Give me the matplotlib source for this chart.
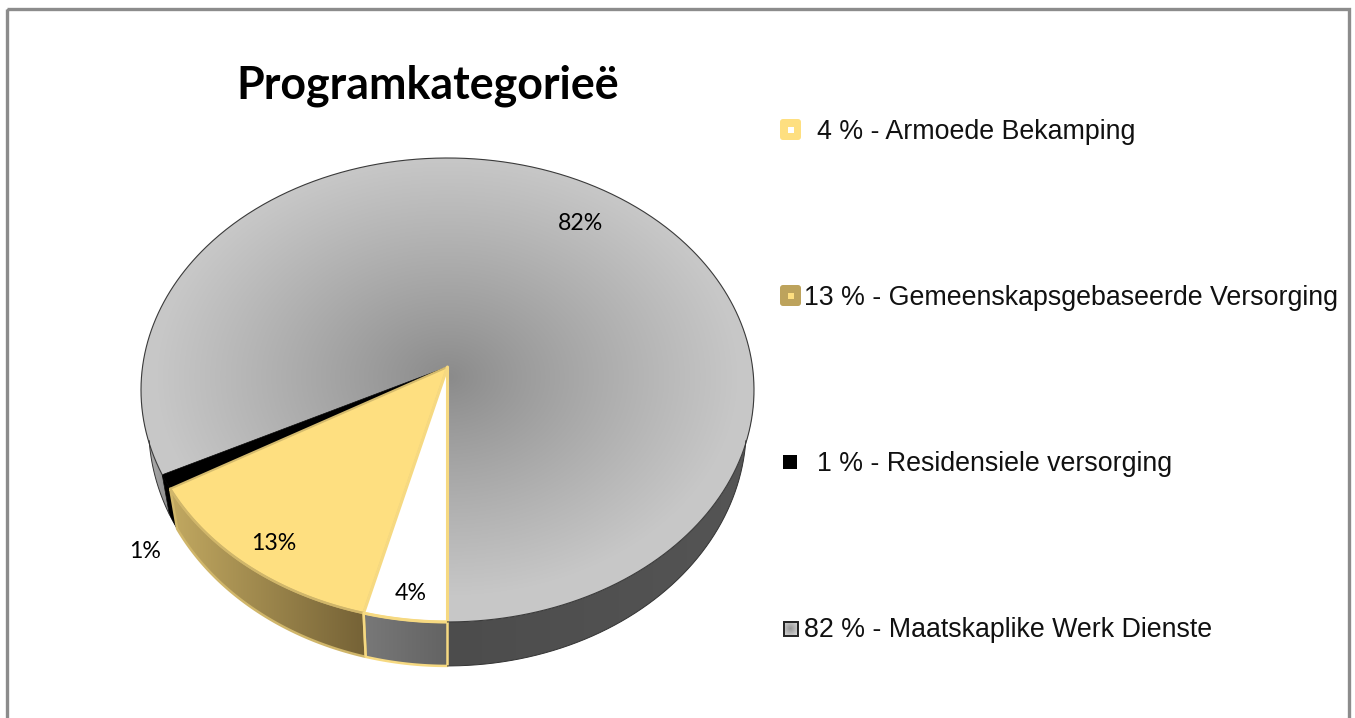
import numpy as np
import matplotlib
matplotlib.use("Agg")
import matplotlib.pyplot as plt
from matplotlib.patches import Polygon, Rectangle, FancyBboxPatch
from matplotlib.colors import to_rgb

# ---- data
title = "Programkategorieë"
values = [4, 12.6, 1, 82.4]
pct_labels = ["4%", "13%", "1%", "82%"]
legend_labels = ["4 % - Armoede Bekamping",
                 "13 % - Gemeenskapsgebaseerde Versorging",
                 "1 % - Residensiele versorging",
                 "82 % - Maatskaplike Werk Dienste"]

# ---- layout (pixels)
W, H = 1355, 718
AX, AY = 447.5, 367.0      # apex of the pie
RX, RY, K = 305.0, 229.7, 0.099
SHRINK = 0.975
GOLD_EDGE = "#f6d981"

fig = plt.figure(figsize=(W / 100, H / 100), dpi=100, facecolor="white")
ax = fig.add_axes([0, 0, 1, 1])
ax.set_xlim(0, W)
ax.set_ylim(H, 0)
ax.axis("off")
yy, xx = np.mgrid[0:H, 0:W] + 0.5


def rim(frac):
    """Perspective position of the rim at a pie fraction, clockwise from straight down."""
    t = 2 * np.pi * np.asarray(frac)
    u, v = -np.sin(t), np.cos(t)
    d = 1 - K * v
    return AX + RX * u / d, AY + RY * v / d


def low_rim(frac):
    """Lower edge of the wall below the rim."""
    x, y = rim(frac)
    v = np.cos(2 * np.pi * np.asarray(frac))
    return AX + (x - AX) * SHRINK, y + 36 + 8 * v


def fracs(f0, f1):
    return np.linspace(f0, f1, max(4, int(abs(f1 - f0) * 720)))


def top_poly(f0, f1):
    x, y = rim(fracs(f0, f1))
    return np.column_stack([np.r_[AX, x], np.r_[AY, y]])


def wall_poly(f0, f1):
    fr = fracs(f0, f1)
    x, y = rim(fr)
    bx, by = low_rim(fr)
    return np.column_stack([np.r_[x, bx[::-1]], np.r_[y, by[::-1]]])


def fill_image(rgb, poly):
    patch = Polygon(poly, closed=True, transform=ax.transData, fc="none", ec="none")
    ax.add_patch(patch)
    im = ax.imshow(rgb, extent=(0, W, H, 0), origin="upper", aspect="auto",
                   interpolation="bilinear", zorder=patch.get_zorder())
    im.set_clip_path(patch)
    ax.set_xlim(0, W)
    ax.set_ylim(H, 0)


def x_gradient(stops):
    pos = [s[0] for s in stops]
    cols = np.array([to_rgb(s[1]) for s in stops])
    g = np.stack([np.interp(xx[0], pos, cols[:, i]) for i in range(3)], axis=-1)
    return np.repeat(g[np.newaxis, :, :], H, axis=0)


# slice limits
edges = np.r_[0, np.cumsum(values)] / np.sum(values)
f = {"white": (edges[0], edges[1]), "gold": (edges[1], edges[2]),
     "black": (edges[2], edges[3]), "grey": (edges[3], edges[4])}

# ---- walls
fill_image(x_gradient([(448, "#4c4c4c"), (755, "#555555")]), wall_poly(0.75, 1.0))
fill_image(x_gradient([(142, "#b8b8b8"), (170, "#8c8c8c")]), wall_poly(f["grey"][0], 0.25))
ax.add_patch(Polygon(wall_poly(*f["black"]), closed=True, fc="black", ec="black", lw=0.5))
fill_image(x_gradient([(170, "#c2a961"), (365, "#756236")]), wall_poly(*f["gold"]))
fill_image(x_gradient([(365, "#787878"), (448, "#636363")]), wall_poly(*f["white"]))

# ---- top faces
d = np.sqrt(((xx - AX) / RX) ** 2 + ((yy - (AY + 10)) / RY) ** 2)
shade = 0x8a / 255 + (0xc7 - 0x8a) / 255 * np.clip(d / 0.95, 0, 1) ** 0.9
fill_image(np.dstack([shade, shade, shade]), top_poly(*f["grey"]))
ax.add_patch(Polygon(top_poly(*f["black"]), closed=True, fc="black", ec="black", lw=0.5))
ax.add_patch(Polygon(top_poly(*f["gold"]), closed=True, fc="#fedf80", ec="#d5bb6d", lw=1.5, joinstyle="round"))
ax.add_patch(Polygon(top_poly(*f["white"]), closed=True, fc="white", ec=GOLD_EDGE, lw=2.2, joinstyle="round"))

# ---- outlines
x, y = rim(fracs(f["grey"][0], 1.0))
ax.plot(x, y, color="#3a3a3a", lw=0.8)
for a, b in ((0.775, 1.0), (f["grey"][0], 0.225)):
    x, y = low_rim(fracs(a, b))
    ax.plot(x, y, color="#333333", lw=0.7)
for key, col in (("gold", "#d0b66a"), ("white", GOLD_EDGE)):
    ax.add_patch(Polygon(wall_poly(*f[key]), closed=True, fc="none", ec=col, lw=1.8, joinstyle="round"))

# ---- percentage labels
label_xy = [(411, 593.5), (274, 543), (145, 551), (580.5, 224)]
for s, (lx, ly) in zip(pct_labels, label_xy):
    ax.text(lx, ly, s, family="Lato", fontsize=16.7, color="black", ha="center", va="center")

# ---- title
ax.text(428, 86, title, family="Lato", fontweight="bold", fontsize=32.2, color="black",
        ha="center", va="center")

# ---- legend
ly = [129, 295, 461, 627]
lx = [817, 804, 817, 804]
for s, tx, ty in zip(legend_labels, lx, ly):
    ax.text(tx, ty, s, family="Liberation Sans", fontsize=19.25, color="#111111", ha="left", va="center_baseline")


def swatch(cx, cy, size, fc, inner):
    ax.add_patch(FancyBboxPatch((cx - size / 2 + 3, cy - size / 2 + 3), size - 6, size - 6,
                                boxstyle="round,pad=3", fc=fc, ec="none"))
    ax.add_patch(Rectangle((cx - 3, cy - 3), 6, 6, fc=inner, ec="none"))


swatch(790.5, 129.5, 21, "#fedf80", "white")
swatch(790.5, 295.5, 21, "#bda35c", "#fedf80")
ax.add_patch(Rectangle((783, 455), 14, 14, fc="black", ec="none"))
fill_image(np.dstack([np.clip(0x96 / 255 + (0xc8 - 0x96) / 255 * np.hypot(xx - 790.5, yy - 628.5) / 7, 0, 1)] * 3),
           np.array([[783, 621], [798, 621], [798, 636], [783, 636]]))
ax.add_patch(Rectangle((783.5, 621.5), 14, 14, fc="none", ec="#222222", lw=1.4))

# ---- frame
ax.add_patch(Rectangle((7, 9), 1342, 740, fc="none", ec="#8c8c8c", lw=2.4))

fig.savefig("out.png", dpi=100, facecolor="white")
